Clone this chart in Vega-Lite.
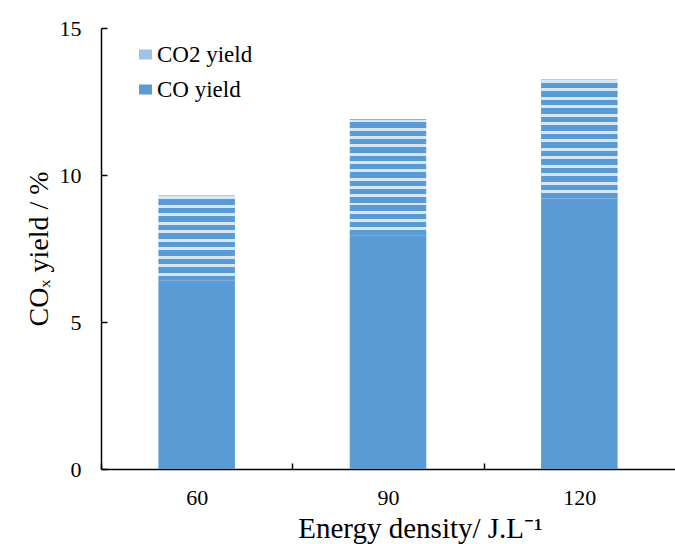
{
  "$schema": "https://vega.github.io/schema/vega-lite/v6.json",
  "width": 574,
  "height": 441,
  "autosize": "none",
  "padding": {"left": 101, "top": 28, "right": 0, "bottom": 75},
  "background": "white",
  "config": {
    "font": "Liberation Serif",
    "view": {"stroke": null},
    "style": {
      "guide-label": {"font": "Liberation Serif"},
      "guide-title": {"font": "Liberation Serif"}
    },
    "axis": {"labelFont": "Liberation Serif", "titleFont": "Liberation Serif"},
    "legend": {"labelFont": "Liberation Serif", "titleFont": "Liberation Serif"}
  },
  "data": {
    "values": [
      {"density": 60, "series": "CO yield", "yield": 6.4},
      {"density": 60, "series": "CO2 yield", "yield": 2.9},
      {"density": 90, "series": "CO yield", "yield": 7.95},
      {"density": 90, "series": "CO2 yield", "yield": 3.95},
      {"density": 120, "series": "CO yield", "yield": 9.2},
      {"density": 120, "series": "CO2 yield", "yield": 4.05}
    ]
  },
  "mark": {"type": "bar"},
  "encoding": {
    "x": {
      "field": "density",
      "type": "ordinal",
      "scale": {"paddingInner": 0.6, "paddingOuter": 0.3},
      "axis": {
        "title": "Energy density/ J.L⁻¹",
        "titleFont": "Liberation Serif",
        "titleFontSize": 29,
        "titleFontWeight": "normal",
        "titleColor": "black",
        "titleBaseline": "alphabetic",
        "titleX": 319,
        "titleY": 68,
        "labelAngle": 0,
        "labelFont": "Liberation Serif",
        "labelFontSize": 22,
        "labelColor": "black",
        "labelPadding": 24,
        "labelOffset": 95.67,
        "tickOffset": -95.67,
        "tickSize": -6,
        "tickColor": "black",
        "tickWidth": 1.5,
        "domainColor": "black",
        "domainWidth": 1.5
      }
    },
    "y": {
      "field": "yield",
      "type": "quantitative",
      "stack": "zero",
      "scale": {"domain": [0, 15]},
      "axis": {
        "title": "COₓ yield / %",
        "titleFont": "Liberation Serif",
        "titleFontSize": 28,
        "titleFontWeight": "normal",
        "titleColor": "black",
        "titleBaseline": "alphabetic",
        "titleX": -54,
        "values": [0, 5, 10, 15],
        "grid": false,
        "labelFont": "Liberation Serif",
        "labelFontSize": 22,
        "labelColor": "black",
        "labelPadding": 26,
        "tickSize": -6,
        "tickColor": "black",
        "tickWidth": 1.5,
        "domainColor": "black",
        "domainWidth": 1.5
      }
    },
    "color": {
      "field": "series",
      "type": "nominal",
      "scale": {"domain": ["CO2 yield", "CO yield"], "range": ["#9CC3E8", "#5B9BD5"]},
      "condition": [
        {
          "test": "datum.series === 'CO2 yield' && datum.density === 60",
          "value": {
            "gradient": "linear", "x1": 0, "y1": 0, "x2": 0, "y2": 1,
            "stops": [
              {"offset": 0, "color": "#5B9BD5"},
              {"offset": 0.005, "color": "#5B9BD5"}, {"offset": 0.005, "color": "#D6E7F6"}, {"offset": 0.04, "color": "#D6E7F6"}, {"offset": 0.04, "color": "#5B9BD5"},
              {"offset": 0.105, "color": "#5B9BD5"}, {"offset": 0.105, "color": "#D6E7F6"}, {"offset": 0.14, "color": "#D6E7F6"}, {"offset": 0.14, "color": "#5B9BD5"},
              {"offset": 0.205, "color": "#5B9BD5"}, {"offset": 0.205, "color": "#D6E7F6"}, {"offset": 0.24, "color": "#D6E7F6"}, {"offset": 0.24, "color": "#5B9BD5"},
              {"offset": 0.305, "color": "#5B9BD5"}, {"offset": 0.305, "color": "#D6E7F6"}, {"offset": 0.34, "color": "#D6E7F6"}, {"offset": 0.34, "color": "#5B9BD5"},
              {"offset": 0.405, "color": "#5B9BD5"}, {"offset": 0.405, "color": "#D6E7F6"}, {"offset": 0.44, "color": "#D6E7F6"}, {"offset": 0.44, "color": "#5B9BD5"},
              {"offset": 0.505, "color": "#5B9BD5"}, {"offset": 0.505, "color": "#D6E7F6"}, {"offset": 0.54, "color": "#D6E7F6"}, {"offset": 0.54, "color": "#5B9BD5"},
              {"offset": 0.605, "color": "#5B9BD5"}, {"offset": 0.605, "color": "#D6E7F6"}, {"offset": 0.64, "color": "#D6E7F6"}, {"offset": 0.64, "color": "#5B9BD5"},
              {"offset": 0.705, "color": "#5B9BD5"}, {"offset": 0.705, "color": "#D6E7F6"}, {"offset": 0.74, "color": "#D6E7F6"}, {"offset": 0.74, "color": "#5B9BD5"},
              {"offset": 0.805, "color": "#5B9BD5"}, {"offset": 0.805, "color": "#D6E7F6"}, {"offset": 0.84, "color": "#D6E7F6"}, {"offset": 0.84, "color": "#5B9BD5"},
              {"offset": 0.905, "color": "#5B9BD5"}, {"offset": 0.905, "color": "#D6E7F6"}, {"offset": 0.94, "color": "#D6E7F6"}, {"offset": 0.94, "color": "#5B9BD5"},
              {"offset": 1, "color": "#5B9BD5"}
            ]
          }
        },
        {
          "test": "datum.series === 'CO2 yield'",
          "value": {
            "gradient": "linear", "x1": 0, "y1": 0, "x2": 0, "y2": 1,
            "stops": [
              {"offset": 0, "color": "#5B9BD5"},
              {"offset": 0.0036, "color": "#5B9BD5"}, {"offset": 0.0036, "color": "#D6E7F6"}, {"offset": 0.0286, "color": "#D6E7F6"}, {"offset": 0.0286, "color": "#5B9BD5"},
              {"offset": 0.075, "color": "#5B9BD5"}, {"offset": 0.075, "color": "#D6E7F6"}, {"offset": 0.1, "color": "#D6E7F6"}, {"offset": 0.1, "color": "#5B9BD5"},
              {"offset": 0.1464, "color": "#5B9BD5"}, {"offset": 0.1464, "color": "#D6E7F6"}, {"offset": 0.1714, "color": "#D6E7F6"}, {"offset": 0.1714, "color": "#5B9BD5"},
              {"offset": 0.2179, "color": "#5B9BD5"}, {"offset": 0.2179, "color": "#D6E7F6"}, {"offset": 0.2429, "color": "#D6E7F6"}, {"offset": 0.2429, "color": "#5B9BD5"},
              {"offset": 0.2893, "color": "#5B9BD5"}, {"offset": 0.2893, "color": "#D6E7F6"}, {"offset": 0.3143, "color": "#D6E7F6"}, {"offset": 0.3143, "color": "#5B9BD5"},
              {"offset": 0.3607, "color": "#5B9BD5"}, {"offset": 0.3607, "color": "#D6E7F6"}, {"offset": 0.3857, "color": "#D6E7F6"}, {"offset": 0.3857, "color": "#5B9BD5"},
              {"offset": 0.4321, "color": "#5B9BD5"}, {"offset": 0.4321, "color": "#D6E7F6"}, {"offset": 0.4571, "color": "#D6E7F6"}, {"offset": 0.4571, "color": "#5B9BD5"},
              {"offset": 0.5036, "color": "#5B9BD5"}, {"offset": 0.5036, "color": "#D6E7F6"}, {"offset": 0.5286, "color": "#D6E7F6"}, {"offset": 0.5286, "color": "#5B9BD5"},
              {"offset": 0.575, "color": "#5B9BD5"}, {"offset": 0.575, "color": "#D6E7F6"}, {"offset": 0.6, "color": "#D6E7F6"}, {"offset": 0.6, "color": "#5B9BD5"},
              {"offset": 0.6464, "color": "#5B9BD5"}, {"offset": 0.6464, "color": "#D6E7F6"}, {"offset": 0.6714, "color": "#D6E7F6"}, {"offset": 0.6714, "color": "#5B9BD5"},
              {"offset": 0.7179, "color": "#5B9BD5"}, {"offset": 0.7179, "color": "#D6E7F6"}, {"offset": 0.7429, "color": "#D6E7F6"}, {"offset": 0.7429, "color": "#5B9BD5"},
              {"offset": 0.7893, "color": "#5B9BD5"}, {"offset": 0.7893, "color": "#D6E7F6"}, {"offset": 0.8143, "color": "#D6E7F6"}, {"offset": 0.8143, "color": "#5B9BD5"},
              {"offset": 0.8607, "color": "#5B9BD5"}, {"offset": 0.8607, "color": "#D6E7F6"}, {"offset": 0.8857, "color": "#D6E7F6"}, {"offset": 0.8857, "color": "#5B9BD5"},
              {"offset": 0.9321, "color": "#5B9BD5"}, {"offset": 0.9321, "color": "#D6E7F6"}, {"offset": 0.9571, "color": "#D6E7F6"}, {"offset": 0.9571, "color": "#5B9BD5"},
              {"offset": 1, "color": "#5B9BD5"}
            ]
          }
        }
      ],
      "legend": {
        "title": null,
        "orient": "none",
        "legendX": 33,
        "legendY": 15,
        "padding": 0,
        "labelFont": "Liberation Serif",
        "labelFontSize": 23,
        "labelColor": "black",
        "labelOffset": 0,
        "rowPadding": 11,
        "symbolType": "M-1,-0.77h2v1.54h-2Z",
        "symbolSize": 169,
        "symbolStrokeWidth": 0,
        "symbolOpacity": 1
      }
    },
    "order": {"field": "series", "sort": "ascending"}
  }
}
